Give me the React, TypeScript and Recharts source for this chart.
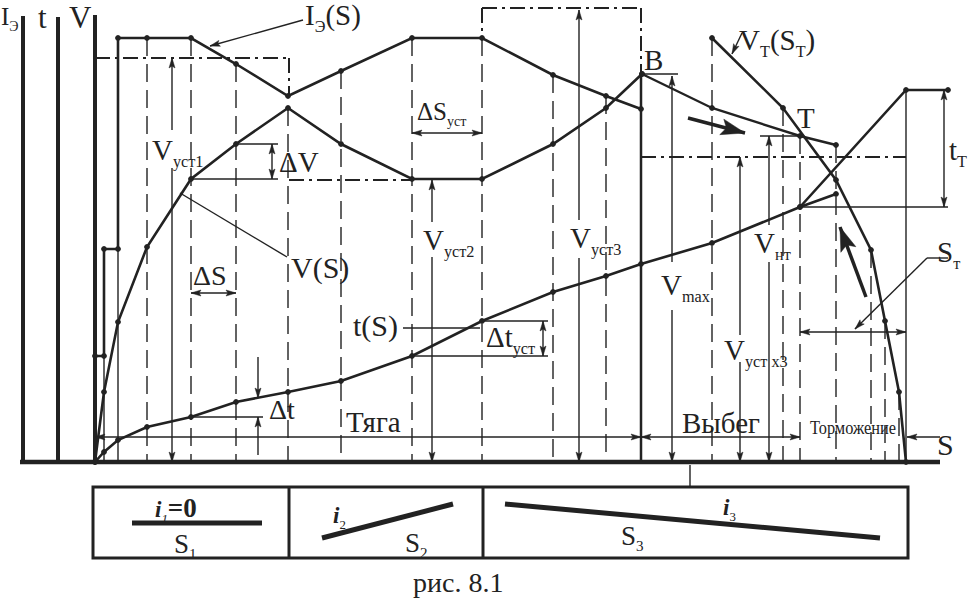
import React from 'react';
import { ComposedChart, Line, XAxis, YAxis, ReferenceLine, ReferenceDot, ReferenceArea } from 'recharts';

const INK = '#222222';
const SERIF = "'Liberation Serif', 'DejaVu Serif', serif";

// ---------- data: S = distance from start, values in drawing units ----------
const currentS = [0, 9, 9, 23, 23, 52, 96, 141, 193, 246, 317, 387, 458, 511, 546];
const currentI = [106, 106, 213, 213, 424, 424, 424, 398, 366, 391, 424, 424, 387, 366, 353];

const speedS = [0, 9, 23, 52, 96, 141, 193, 246, 317, 387, 458, 511, 547];
const speedV = [0, 70, 140, 215, 283, 318, 354, 318, 283, 283, 318, 354, 388];

const coastS = [547, 617, 705, 741];
const coastV = [388, 354, 326, 317];

const brakeS = [617, 688, 741, 776, 790, 804, 811];
const brakeV = [424, 354, 282, 212, 141, 70, 0];

const timeS = [0, 9, 23, 52, 96, 141, 193, 246, 317, 387, 458, 511, 546, 617, 705, 741];
const timeT = [0, 10, 22, 35, 45, 60, 70, 81, 106, 141, 170, 186, 198, 219, 255, 268];

const brakeTimeS = [705, 811, 853];
const brakeTimeT = [255, 372, 372];

// steady-state speed levels
const vSteady1 = 404;
const vSteady2 = 282;
const vSteady3 = 454;
const vSteadyX3 = 305;

// computation steps (dashed verticals) and the value each rises to
const stepS = [52, 96, 141, 193, 246, 317, 387, 458, 511, 617, 688, 705, 741, 776, 790, 804];
const stepTop = [424, 424, 398, 354, 391, 424, 424, 387, 366, 424, 354, 326, 317, 212, 141, 70];

// track sections
const sectionBounds = [-2, 194, 388, 813];

const zip = (xs: number[], ys: number[]) => xs.map((s, i) => ({ s, v: ys[i] }));

type P = [number, number];
type Part = { t: string; sub?: boolean; b?: boolean; it?: boolean; sz?: number };
type Lbl = { s: number; v: number; size: number; parts: Part[]; len?: number };

// ---------- annotations ----------
const thin: [P, P][] = [
  [[96, 283], [183, 283]],
  [[141, 318], [183, 318]],
  [[96, 45], [168, 45]],
  [[387, 141], [453, 141]],
  [[317, 106], [453, 106]],
  [[308, 134], [385, 134]],
  [[85, 269], [192, 205]],
  [[665, 326], [705, 326]],
  [[547, 388], [583, 388]],
  [[705, 255], [853, 255]],
  [[595, -3], [595, -25]],
  [[9, 106], [9, 0]],
  [[23, 213], [23, 0]],
  [[811, 372], [811, 0]],
  [[853, 204], [832, 204]],
];

const dashDot: [P, P][] = [
  [[0, vSteady1], [194, vSteady1]],
  [[194, vSteady1], [194, 366]],
  [[194, vSteady2], [317, vSteady2]],
  [[387, vSteady3], [546, vSteady3]],
  [[387, vSteady3], [387, 424]],
  [[546, vSteady3], [546, 388]],
  [[546, vSteadyX3], [811, vSteadyX3]],
];

type Arrow = { a: P; b: P; both?: boolean; big?: boolean };
const arrows: Arrow[] = [
  { a: [177, 318], b: [177, 283], both: true },
  { a: [317, 329], b: [387, 329], both: true },
  { a: [96, 169], b: [141, 169], both: true },
  { a: [448, 141], b: [448, 106], both: true },
  { a: [0, 25], b: [546, 25], both: true },
  { a: [546, 25], b: [705, 25], both: true },
  { a: [849, 372], b: [849, 255], both: true },
  { a: [705, 130], b: [811, 130], both: true },
  { a: [77, 332], b: [77, vSteady1] },
  { a: [77, 294], b: [77, 0] },
  { a: [337, 240], b: [337, vSteady2] },
  { a: [337, 205], b: [337, 0] },
  { a: [484, 242], b: [484, 452] },
  { a: [484, 204], b: [484, 0] },
  { a: [577, 200], b: [577, 386] },
  { a: [577, 152], b: [577, 0] },
  { a: [645, 127], b: [645, vSteadyX3] },
  { a: [645, 100], b: [645, 0] },
  { a: [674, 237], b: [674, 326] },
  { a: [674, 200], b: [674, 0] },
  { a: [163, 105], b: [163, 64] },
  { a: [163, 7], b: [163, 45] },
  { a: [845, 25], b: [812, 25] },
  { a: [208, 442], b: [115, 416] },
  { a: [647, 429], b: [637, 408] },
  { a: [832, 204], b: [760, 133] },
  { a: [593, 344], b: [650, 329], big: true },
  { a: [771, 165], b: [745, 235], big: true },
];

const labels: Lbl[] = [
  { s: -94, v: 437, size: 25, parts: [{ t: 'I' }, { t: 'Э', sub: true }] },
  { s: -57, v: 434, size: 31, parts: [{ t: 't' }] },
  { s: -26, v: 434, size: 31, parts: [{ t: 'V' }] },
  { s: 210, v: 437, size: 29, parts: [{ t: 'I' }, { t: 'Э', sub: true }, { t: '(S)' }] },
  { s: 57, v: 302, size: 29, parts: [{ t: 'V' }, { t: 'уст1', sub: true }] },
  { s: 184, v: 290, size: 29, parts: [{ t: 'ΔV' }] },
  { s: 322, v: 342, size: 25, parts: [{ t: 'ΔS' }, { t: 'уст', sub: true }] },
  { s: 98, v: 177, size: 28, parts: [{ t: 'ΔS' }] },
  { s: 196, v: 184, size: 30, parts: [{ t: 'V(S)' }] },
  { s: 258, v: 126, size: 30, parts: [{ t: 't(S)' }] },
  { s: 174, v: 43, size: 28, parts: [{ t: 'Δt' }] },
  { s: 251, v: 30, size: 29, parts: [{ t: 'Тяга' }] },
  { s: 328, v: 212, size: 29, parts: [{ t: 'V' }, { t: 'уст2', sub: true }] },
  { s: 475, v: 214, size: 29, parts: [{ t: 'V' }, { t: 'уст3', sub: true }] },
  { s: 391, v: 115, size: 29, parts: [{ t: 'Δt' }, { t: 'уст', sub: true }] },
  { s: 566, v: 167, size: 29, parts: [{ t: 'V' }, { t: 'max', sub: true }] },
  { s: 549, v: 392, size: 29, parts: [{ t: 'B' }] },
  { s: 644, v: 412, size: 29, parts: [{ t: 'V' }, { t: 'Т', sub: true }, { t: '(S' }, { t: 'Т', sub: true }, { t: ')' }] },
  { s: 702, v: 334, size: 29, parts: [{ t: 'T' }] },
  { s: 854, v: 302, size: 29, parts: [{ t: 't' }, { t: 'Т', sub: true }] },
  { s: 659, v: 209, size: 29, parts: [{ t: 'V' }, { t: 'нт', sub: true }] },
  { s: 842, v: 200, size: 29, parts: [{ t: 'S' }, { t: 'т', sub: true }] },
  { s: 629, v: 102, size: 29, parts: [{ t: 'V' }, { t: 'уст x3', sub: true }] },
  { s: 587, v: 29, size: 29, parts: [{ t: 'Выбег' }] },
  { s: 715, v: 28, size: 18, parts: [{ t: 'Торможение' }], len: 86 },
  { s: 842, v: 7, size: 30, parts: [{ t: 'S' }] },
  { s: 60, v: -55, size: 23, parts: [{ t: 'i', b: true, it: true }, { t: '1', sub: true, it: true }, { t: '=0', b: true, sz: 27 }] },
  { s: 79, v: -91, size: 27, parts: [{ t: 'S' }, { t: '1', sub: true }] },
  { s: 238, v: -61, size: 23, parts: [{ t: 'i', b: true, it: true }, { t: '2', sub: true }] },
  { s: 310, v: -90, size: 27, parts: [{ t: 'S' }, { t: '2', sub: true }] },
  { s: 628, v: -53, size: 23, parts: [{ t: 'i', b: true, it: true }, { t: '3', sub: true }] },
  { s: 526, v: -83, size: 27, parts: [{ t: 'S' }, { t: '3', sub: true }] },
  { s: 318, v: -130, size: 28, parts: [{ t: 'рис. 8.1' }] },
];

const grades: [P, P][] = [
  [[37, -61], [167, -61]],
  [[227, -76], [358, -42]],
  [[410, -42], [785, -76]],
];

// ---------- renderers ----------
const textShape = (l: Lbl) => (p: any) => {
  let cur = 0;
  const subOff = l.size * 0.24;
  return (
    <text
      x={p.cx}
      y={p.cy}
      style={{ fontFamily: SERIF, fontSize: l.size, fill: INK }}
      textLength={l.len}
      lengthAdjust={l.len ? 'spacingAndGlyphs' : undefined}
    >
      {l.parts.map((pt, i) => {
        const target = pt.sub ? subOff : 0;
        const dy = target - cur;
        cur = target;
        return (
          <tspan
            key={i}
            dy={dy}
            style={{
              fontFamily: SERIF,
              fontSize: pt.sz ?? (pt.sub ? l.size * 0.56 : l.size),
              fontWeight: pt.b ? 'bold' : 'normal',
              fontStyle: pt.it ? 'italic' : 'normal',
            }}
          >
            {pt.t}
          </tspan>
        );
      })}
    </text>
  );
};

const headShape = (ang: number, L: number, W: number) => (p: any) => {
  const { cx, cy } = p;
  const c = Math.cos(ang);
  const s = Math.sin(ang);
  const bx = cx - L * c;
  const by = cy - L * s;
  const pts = [
    [cx, cy],
    [bx - W * s, by + W * c],
    [cx - L * 0.8 * c, cy - L * 0.8 * s],
    [bx + W * s, by - W * c],
  ]
    .map((q) => q.join(','))
    .join(' ');
  return <polygon points={pts} fill={INK} stroke={INK} strokeWidth={0.5} />;
};

const seg = (key: string, a: P, b: P, w: number, dash?: string) => (
  <ReferenceLine
    key={key}
    segment={[{ x: a[0], y: a[1] }, { x: b[0], y: b[1] }]}
    stroke={INK}
    strokeWidth={w}
    strokeDasharray={dash}
    ifOverflow="visible"
  />
);

const DOT = { r: 2.4, fill: INK, stroke: INK, strokeWidth: 1 };

export default function App() {
  const arrowEls: React.ReactNode[] = [];
  arrows.forEach((ar, i) => {
    const dx = ar.b[0] - ar.a[0];
    const dy = -(ar.b[1] - ar.a[1]);
    const ang = Math.atan2(dy, dx);
    const L = ar.big ? 24 : 10;
    const W = ar.big ? 8 : 3;
    arrowEls.push(seg('as' + i, ar.a, ar.b, ar.big ? 3.5 : 1.4));
    arrowEls.push(
      <ReferenceDot key={'ah' + i} x={ar.b[0]} y={ar.b[1]} r={0} ifOverflow="visible" shape={headShape(ang, L, W)} />
    );
    if (ar.both) {
      arrowEls.push(
        <ReferenceDot key={'at' + i} x={ar.a[0]} y={ar.a[1]} r={0} ifOverflow="visible" shape={headShape(ang + Math.PI, L, W)} />
      );
    }
  });

  return (
    <div style={{ width: 971, height: 600, background: '#fff', fontFamily: SERIF }}>
      <style>{'body{margin:0;background:#fff}'}</style>
      <ComposedChart width={971} height={600} margin={{ top: 0, right: 0, bottom: 0, left: 0 }} style={{ fontFamily: SERIF }}>
        <XAxis type="number" dataKey="s" domain={[-95, 876]} hide allowDataOverflow />
        <YAxis type="number" domain={[-138, 462]} hide allowDataOverflow />

        {/* axes */}
        {seg('ax1', [-72, 446], [-72, 0], 4)}
        {seg('ax2', [-37, 445], [-37, 0], 4)}
        {seg('ax3', [0, 447], [0, 0], 4)}
        {seg('base', [-75, 0], [845, 0], 4.5)}

        {/* step verticals */}
        {stepS.map((s, i) => seg('st' + i, [s, stepTop[i]], [s, 0], 1.4, '18 8'))}
        {seg('coastStart', [546, 388], [546, 0], 2.5)}

        {dashDot.map((d, i) => seg('dd' + i, d[0], d[1], 2, '15 5 3 5'))}
        {thin.map((d, i) => seg('th' + i, d[0], d[1], 1.4))}
        {arrowEls}

        {/* track profile box */}
        <ReferenceArea x1={sectionBounds[0]} x2={sectionBounds[3]} y1={-96} y2={-25} fill="none" fillOpacity={0} stroke={INK} strokeWidth={3} ifOverflow="visible" />
        {seg('div1', [sectionBounds[1], -25], [sectionBounds[1], -96], 3)}
        {seg('div2', [sectionBounds[2], -25], [sectionBounds[2], -96], 3)}
        {grades.map((g, i) => seg('gr' + i, g[0], g[1], 5))}

        {/* curves */}
        <Line data={zip(currentS, currentI)} dataKey="v" type="linear" stroke={INK} strokeWidth={2.6} dot={DOT} activeDot={false} isAnimationActive={false} />
        <Line data={zip(speedS, speedV)} dataKey="v" type="linear" stroke={INK} strokeWidth={2.6} dot={DOT} activeDot={false} isAnimationActive={false} />
        <Line data={zip(coastS, coastV)} dataKey="v" type="linear" stroke={INK} strokeWidth={2.4} dot={DOT} activeDot={false} isAnimationActive={false} />
        <Line data={zip(brakeS, brakeV)} dataKey="v" type="linear" stroke={INK} strokeWidth={2.6} dot={DOT} activeDot={false} isAnimationActive={false} />
        <Line data={zip(timeS, timeT)} dataKey="v" type="linear" stroke={INK} strokeWidth={2.6} dot={DOT} activeDot={false} isAnimationActive={false} />
        <Line data={zip(brakeTimeS, brakeTimeT)} dataKey="v" type="linear" stroke={INK} strokeWidth={2.6} dot={DOT} activeDot={false} isAnimationActive={false} />

        {/* texts */}
        {labels.map((l, i) => (
          <ReferenceDot key={'lb' + i} x={l.s} y={l.v} r={0} ifOverflow="visible" shape={textShape(l)} />
        ))}
      </ComposedChart>
    </div>
  );
}
